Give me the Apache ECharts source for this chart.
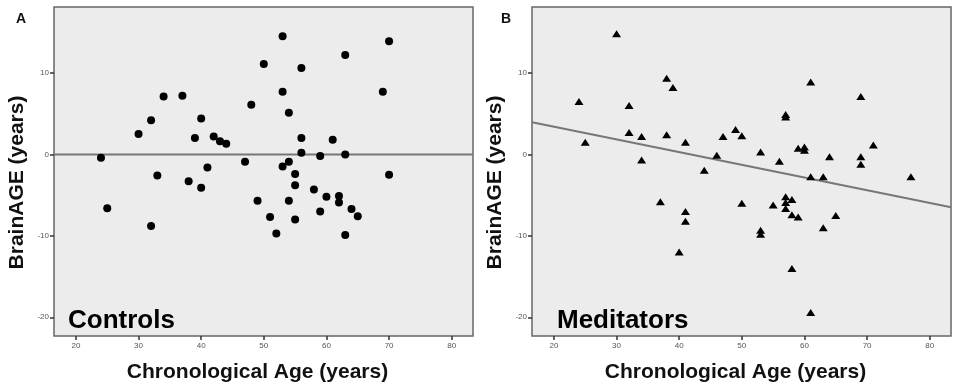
<!DOCTYPE html>
<html>
<head>
<meta charset="utf-8">
<script src="https://cdn.jsdelivr.net/npm/echarts@6/dist/echarts.min.js"></script>
<style>
  html, body { margin: 0; padding: 0; background: #fff; }
  #chart { width: 957px; height: 388px; }
</style>
</head>
<body>
<div id="chart"></div>
<script>
// axis ranges and tick labels
var xRange = [16.5, 83.4];
var yRange = [-22.3, 18.1];
var xTicks = [20, 30, 40, 50, 60, 70, 80];
var yTicks = [-20, -10, 0, 10];

// controls: age vs brainAGE
var controlsAge = [24, 25, 30, 32, 32, 33, 34, 37, 38, 39, 40, 40, 41, 42, 43, 44, 47, 48, 49, 50,
  51, 52, 53, 53, 53, 54, 54, 54, 55, 55, 55, 56, 56, 56, 58, 59, 59, 60, 61, 62,
  62, 63, 63, 63, 64, 65, 69, 70, 70];
var controlsBrainAge = [-0.4, -6.6, 2.5, 4.2, -8.8, -2.6, 7.1, 7.2, -3.3, 2.0, 4.4, -4.1, -1.6, 2.2, 1.6, 1.3, -0.9, 6.1, -5.7, 11.1,
  -7.7, -9.7, 14.5, 7.7, -1.5, 5.1, -0.9, -5.7, -2.4, -3.8, -8.0, 10.6, 2.0, 0.2, -4.3, -0.2, -7.0, -5.2, 1.8, -5.1,
  -5.9, 12.2, 0.0, -9.9, -6.7, -7.6, 7.7, 13.9, -2.5];

// meditators: age vs brainAGE
var meditatorsAge = [24, 25, 30, 32, 32, 34, 34, 37, 38, 38, 39, 40, 41, 41, 41, 44, 46, 47, 49, 50,
  50, 53, 53, 53, 55, 56, 57, 57, 57, 57, 57, 58, 58, 58, 59, 59, 60, 60, 61, 61,
  61, 63, 63, 64, 65, 69, 69, 69, 71, 77];
var meditatorsBrainAge = [6.5, 1.5, 14.8, 6.0, 2.7, 2.2, -0.7, -5.8, 9.35, 2.4, 8.2, -12.0, 1.5, -7.0, -8.2, -1.95, -0.1, 2.2, 3.05, 2.3,
  -6.0, 0.3, -9.3, -9.8, -6.2, -0.85, 4.9, 4.6, -5.2, -5.9, -6.65, -5.55, -7.4, -14.0, 0.75, -7.7, 0.9, 0.5, 8.9, -2.75,
  -19.4, -2.75, -9.0, -0.3, -7.5, 7.1, -0.3, -1.2, 1.15, -2.75];

// fit lines (intercept at age 0, slope per year)
var controlsFit = [0, 0];
var meditatorsFit = [6.53, -0.156];

function pairs(xs, ys) {
  return xs.map(function (x, i) { return [x, ys[i]]; });
}
function fitLine(f) {
  return xRange.map(function (x) { return [x, f[0] + f[1] * x]; });
}

var font = '"Liberation Sans", Arial, sans-serif';
var gridTop = 7, gridH = 330, gridW = 419;
var lefts = [54, 532];

function xAxisFor(i) {
  return {
    gridIndex: i, type: 'value', min: xRange[0], max: xRange[1],
    name: 'Chronological Age (years)', nameLocation: 'middle', nameGap: 26,
    nameTextStyle: { fontFamily: font, fontWeight: 'bold', fontSize: 21, color: '#111', padding: [0, 12, 0, 0] },
    axisLine: { show: false, onZero: false },
    splitLine: { show: false },
    axisTick: { show: true, length: 4, customValues: xTicks, lineStyle: { color: '#333', width: 1.5 } },
    axisLabel: { customValues: xTicks, margin: 6, fontFamily: font, fontSize: 8, color: '#555' }
  };
}
function yAxisFor(i) {
  return {
    gridIndex: i, type: 'value', min: yRange[0], max: yRange[1],
    name: 'BrainAGE (years)', nameLocation: 'middle', nameGap: 26, nameRotate: 90,
    nameTextStyle: { fontFamily: font, fontWeight: 'bold', fontSize: 21, color: '#111', padding: [0, 22, 0, 0] },
    axisLine: { show: false, onZero: false },
    splitLine: { show: false },
    axisTick: { show: true, length: 4, customValues: yTicks, lineStyle: { color: '#333', width: 1.5 } },
    axisLabel: { customValues: yTicks, margin: 5, fontFamily: font, fontSize: 8, color: '#555' }
  };
}

var myChart = echarts.init(document.getElementById('chart'));
var option = {
  backgroundColor: '#fff',
  animation: false,
  grid: lefts.map(function (l) {
    return {
      left: l, top: gridTop, width: gridW, height: gridH,
      show: true, backgroundColor: '#ececec', borderColor: '#666', borderWidth: 1.5
    };
  }),
  xAxis: [xAxisFor(0), xAxisFor(1)],
  yAxis: [yAxisFor(0), yAxisFor(1)],
  title: [
    { text: 'A', left: 11, top: 7, textStyle: { fontFamily: font, fontWeight: 'bold', fontSize: 14, color: '#111' } },
    { text: 'B', left: 496, top: 7, textStyle: { fontFamily: font, fontWeight: 'bold', fontSize: 14, color: '#111' } },
    { text: 'Controls', left: 63, top: 303, textStyle: { fontFamily: font, fontWeight: 'bold', fontSize: 26, color: '#000' } },
    { text: 'Meditators', left: 552, top: 303, textStyle: { fontFamily: font, fontWeight: 'bold', fontSize: 26, color: '#000' } }
  ],
  series: [
    {
      type: 'line', xAxisIndex: 0, yAxisIndex: 0, data: fitLine(controlsFit),
      symbol: 'none', lineStyle: { color: '#777', width: 2 }, z: 1
    },
    {
      type: 'scatter', xAxisIndex: 0, yAxisIndex: 0, data: pairs(controlsAge, controlsBrainAge),
      symbol: 'circle', symbolSize: 8,
      itemStyle: { color: '#000', opacity: 1 }, z: 3
    },
    {
      type: 'line', xAxisIndex: 1, yAxisIndex: 1, data: fitLine(meditatorsFit),
      symbol: 'none', lineStyle: { color: '#777', width: 2 }, z: 1
    },
    {
      type: 'scatter', xAxisIndex: 1, yAxisIndex: 1, data: pairs(meditatorsAge, meditatorsBrainAge),
      symbol: 'triangle', symbolSize: [9, 7],
      itemStyle: { color: '#000', opacity: 1 }, z: 3
    }
  ]
};
myChart.setOption(option);
</script>
</body>
</html>
